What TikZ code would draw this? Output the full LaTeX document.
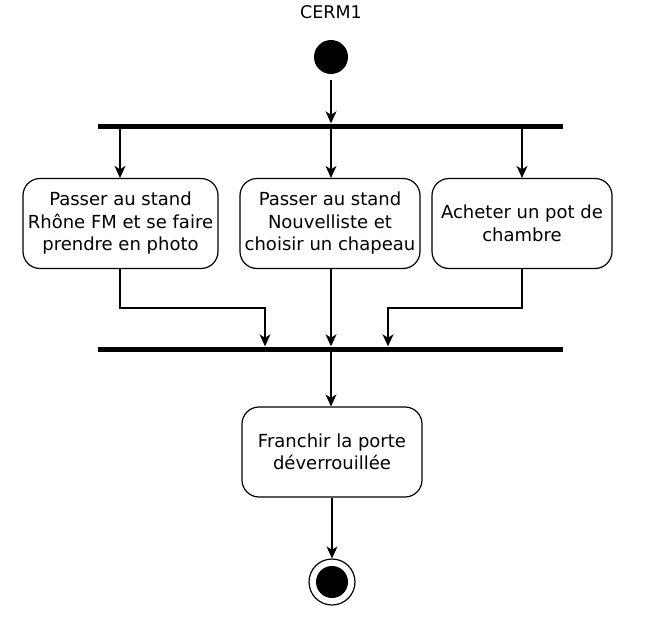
\documentclass[tikz,border=0pt]{standalone}
\usepackage{fontspec}
\setmainfont{DejaVu Sans}
\usetikzlibrary{arrows.meta}
\begin{document}
\begin{tikzpicture}[x=1pt,y=-1pt,
  act/.style={draw,line width=1.2pt,rounded corners=17pt,align=center,inner sep=0pt,
    font=\fontsize{18}{22.5}\selectfont},
  bar/.style={fill=black,inner sep=0pt,minimum height=5pt},
  flow/.style={line width=1.2pt,-{Stealth[length=12pt,width=11pt,inset=3.5pt]}}]
\useasboundingbox (0,0) rectangle (670,621);
\node[font=\fontsize{17.5}{20}\selectfont] (title) at (331,12) {CERM1};
\node[circle,fill=black,minimum size=34pt,inner sep=0pt] (start) at (331,57) {};
\node[bar,minimum width=465pt] (fork) at (330.5,126) {};
\node[act,minimum width=195pt,minimum height=90pt] (a1) at (120.5,223.5) {Passer au stand\\Rhône FM et se faire\\prendre en photo};
\node[act,minimum width=180pt,minimum height=90pt] (a2) at (330,223.5) {Passer au stand\\Nouvelliste et\\choisir un chapeau};
\node[act,minimum width=180pt,minimum height=90pt] (a3) at (522,223.5) {Acheter un pot de\\chambre};
\node[bar,minimum width=465pt] (join) at (330.5,349) {};
\node[act,minimum width=180pt,minimum height=90pt] (a4) at (332,452) {Franchir la porte\\déverrouillée};
\node[circle,draw,line width=1.2pt,minimum size=46pt,inner sep=0pt] (endo) at (332,582) {};
\node[circle,fill=black,minimum size=32pt,inner sep=0pt] (endi) at (332,582) {};
\coordinate (s0) at (331,80);
\draw[flow] (s0) -- (start.south |- fork.north);
\draw[flow] (120,128.5) -- (a1.north -| 120,0);
\draw[flow] (331,128.5) -- (a2.north -| 331,0);
\draw[flow] (522,128.5) -- (a3.north -| 522,0);
\coordinate (j1) at (265,308);
\coordinate (j3) at (388,308);
\draw[flow] (a1.south -| 120,0) |- (j1) -- (join.north -| j1);
\draw[flow] (a2.south -| 331,0) -- (join.north -| 331,0);
\draw[flow] (a3.south -| 522,0) |- (j3) -- (join.north -| j3);
\draw[flow] (331,351.5) -- (a4.north -| 331,0);
\draw[flow] (a4.south -| 332,0) -- (endo.north);
\end{tikzpicture}
\end{document}
